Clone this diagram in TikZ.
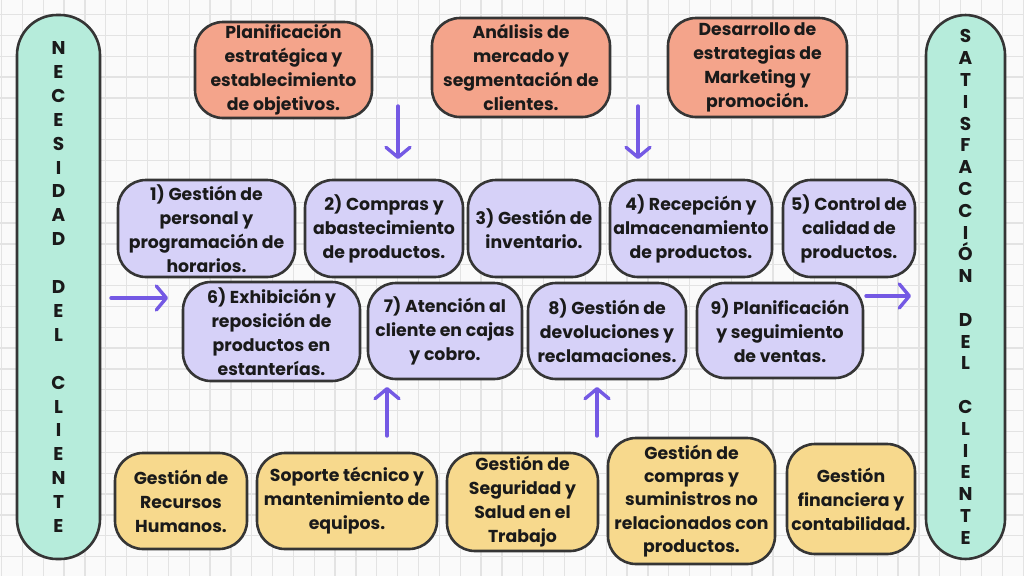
\documentclass[tikz,border=0pt]{standalone}
\usepackage{fontspec}
\setmainfont{Poppins}
\usetikzlibrary{arrows.meta}
\definecolor{bgc}{HTML}{FAFAFA}
\definecolor{gridc}{HTML}{E3E3E3}
\definecolor{edgec}{HTML}{353535}
\definecolor{inkc}{HTML}{1A1A1A}
\definecolor{orangef}{HTML}{F4A48B}
\definecolor{purplef}{HTML}{D6D1F8}
\definecolor{yellowf}{HTML}{F7D98D}
\definecolor{mintf}{HTML}{B6ECDB}
\definecolor{arrowc}{HTML}{7459E4}
\begin{document}
\begin{tikzpicture}[x=1pt,y=-1pt,
  gridline/.style={draw=gridc, line width=1.3pt},
  box/.style={draw=edgec, line width=2.6pt, rounded corners=28pt, align=center, text=inkc,
    font=\bfseries\fontsize{17.3}{24}\selectfont, inner sep=0pt},
  obox/.style={box, fill=orangef},
  pbox/.style={box, fill=purplef},
  ybox/.style={box, fill=yellowf},
  pill/.style={box, fill=mintf, rounded corners=40pt, font=\bfseries\fontsize{18.5}{23.9}\selectfont},
  pillr/.style={pill, font=\bfseries\fontsize{18.5}{21.8}\selectfont},
  flow/.style={draw=arrowc, line width=3.4pt, line cap=round, line join=round,
    -{Straight Barb[length=10pt,width=24pt,line cap=round,line join=round]}}
]
\fill[bgc] (0,0) rectangle (1024,576);
\useasboundingbox (0,0) rectangle (1024,576);
\foreach \i in {0,...,49} {
  \draw[gridline] ({1.5+20.85*\i},0) -- ({1.5+20.85*\i},576);
}
\foreach \j in {0,...,27} {
  \draw[gridline] (0,{-6.35+20.85*\j}) -- (1024,{-6.35+20.85*\j});
}

% side pills
\node[pill, minimum width=83pt, minimum height=544pt] (nec) at (58.5,287)
  {N\\E\\C\\E\\S\\I\\D\\A\\D\\\mbox{}\\D\\E\\L\\\mbox{}\\C\\L\\I\\E\\N\\T\\E};
\node[pillr, minimum width=79pt, minimum height=544pt] (sat) at (965.5,287)
  {S\\A\\T\\I\\S\\F\\A\\C\\C\\I\\Ó\\N\\\mbox{}\\D\\E\\L\\\mbox{}\\C\\L\\I\\E\\N\\T\\E};

% top orange
\node[obox, minimum width=177pt, minimum height=96pt] (o1) at (283.5,70)
  {Planificación\\estratégica y\\establecimiento\\de objetivos.};
\node[obox, minimum width=178pt, minimum height=99pt] (o2) at (521,67.5)
  {Análisis de\\mercado y\\segmentación de\\clientes.};
\node[obox, minimum width=179pt, minimum height=99pt] (o3) at (757.5,67.5)
  {Desarrollo de\\estrategias de\\Marketing y\\promoción.};

% purple row 1
\node[pbox, minimum width=177pt, minimum height=97pt] (p1) at (206.5,228.5)
  {1) Gestión de\\personal y\\programación de\\horarios.};
\node[pbox, minimum width=158pt, minimum height=97pt] (p2) at (384,228.5)
  {2) Compras y\\abastecimiento\\de productos.};
\node[pbox, minimum width=132pt, minimum height=97pt] (p3) at (534,228.5)
  {3) Gestión de\\inventario.};
\node[pbox, minimum width=162pt, minimum height=97pt] (p4) at (691,228.5)
  {4) Recepción y\\almacenamiento\\de productos.};
\node[pbox, minimum width=132pt, minimum height=97pt] (p5) at (849,228.5)
  {5) Control de\\calidad de\\productos.};

% purple row 2
\node[pbox, minimum width=177pt, minimum height=99pt] (p6) at (271.5,331.5)
  {6) Exhibición y\\reposición de\\productos en\\estanterías.};
\node[pbox, minimum width=154pt, minimum height=96pt] (p7) at (445,331)
  {7) Atención al\\cliente en cajas\\y cobro.};
\node[pbox, minimum width=158pt, minimum height=96pt] (p8) at (607,331)
  {8) Gestión de\\devoluciones y\\reclamaciones.};
\node[pbox, minimum width=166pt, minimum height=95pt] (p9) at (780,330.5)
  {9) Planificación\\y seguimiento\\de ventas.};

% bottom yellow
\node[ybox, minimum width=132pt, minimum height=96pt] (y1) at (181,501)
  {Gestión de\\Recursos\\Humanos.};
\node[ybox, minimum width=180pt, minimum height=96pt] (y2) at (347,501)
  {Soporte técnico y\\mantenimiento de\\equipos.};
\node[ybox, minimum width=151pt, minimum height=98pt] (y3) at (522.5,502)
  {Gestión de\\Seguridad y\\Salud en el\\Trabajo};
\node[ybox, minimum width=167pt, minimum height=126pt, font=\bfseries\fontsize{17.3}{23.4}\selectfont] (y4) at (691.5,501)
  {Gestión de\\compras y\\suministros no\\relacionados con\\productos.};
\node[ybox, minimum width=128pt, minimum height=110pt] (y5) at (851,499)
  {Gestión\\financiera y\\contabilidad.};

% arrows
\coordinate (d1s) at (398,106); \coordinate (d1e) at (398,159);
\coordinate (d2s) at (638,106); \coordinate (d2e) at (638,159);
\coordinate (u1s) at (387,436); \coordinate (u1e) at (387,387);
\coordinate (u2s) at (597,436); \coordinate (u2e) at (597,387);
\coordinate (ls) at (111,298); \coordinate (le) at (168,298);
\coordinate (rs) at (866,296); \coordinate (re) at (911,296);
\draw[flow] (d1s) -- (d1e);
\draw[flow] (d2s) -- (d2e);
\draw[flow] (u1s) -- (u1e);
\draw[flow] (u2s) -- (u2e);
\draw[flow] (ls) -- (le);
\draw[flow] (rs) -- (re);
\end{tikzpicture}
\end{document}
